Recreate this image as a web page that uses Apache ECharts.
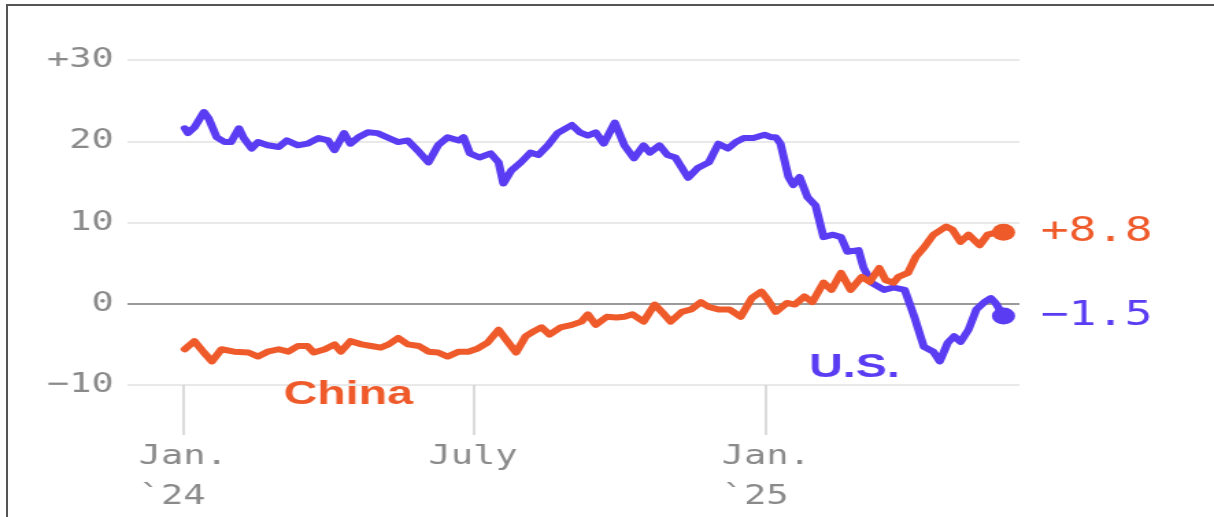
<!DOCTYPE html>
<html>
<head>
<meta charset="utf-8">
<script src="https://cdn.jsdelivr.net/npm/echarts@6/dist/echarts.min.js"></script>
<style>
  html, body { margin: 0; padding: 0; background: #fff; overflow: hidden; }
  #frame { position: absolute; left: 6px; top: 4px; width: 1210px; height: 520px;
           border-left: 2px solid #555; border-top: 2px solid #555; }
  /* the reference is stretched sideways, so the chart is drawn narrow and scaled */
  #chart { position: absolute; left: 0; top: 0; width: 886px; height: 517px;
           transform: scaleX(1.3702); transform-origin: 0 0; }
</style>
</head>
<body>
<div id="frame"></div>
<div id="chart"></div>
<script>
// U.S. line (change, points)
var usDates = ['2024-01-02','2024-01-04','2024-01-08','2024-01-14','2024-01-17','2024-01-22','2024-01-27','2024-01-31','2024-02-05','2024-02-08',
  '2024-02-13','2024-02-17','2024-02-23','2024-03-01','2024-03-06','2024-03-13','2024-03-19','2024-03-26','2024-04-01','2024-04-05',
  '2024-04-11','2024-04-15','2024-04-20','2024-04-26','2024-05-02','2024-05-09','2024-05-15','2024-05-21','2024-05-28','2024-06-03',
  '2024-06-09','2024-06-15','2024-06-22','2024-06-25','2024-06-29','2024-07-05','2024-07-12','2024-07-17','2024-07-20','2024-07-25',
  '2024-07-31','2024-08-06','2024-08-11','2024-08-17','2024-08-23','2024-09-01','2024-09-06','2024-09-11','2024-09-16','2024-09-21',
  '2024-09-28','2024-10-04','2024-10-10','2024-10-16','2024-10-20','2024-10-26','2024-10-31','2024-11-05','2024-11-13','2024-11-19',
  '2024-11-26','2024-12-02','2024-12-08','2024-12-13','2024-12-18','2024-12-24','2024-12-31','2025-01-04','2025-01-07','2025-01-10',
  '2025-01-15','2025-01-18','2025-01-22','2025-01-27','2025-02-01','2025-02-06','2025-02-12','2025-02-17','2025-02-21','2025-02-28',
  '2025-03-03','2025-03-08','2025-03-16','2025-03-22','2025-03-29','2025-04-04','2025-04-10','2025-04-16','2025-04-20','2025-04-25',
  '2025-04-29','2025-05-03','2025-05-08','2025-05-13','2025-05-18','2025-05-22','2025-05-25','2025-05-30']
var usValues = [21.6,21.0,21.7,23.6,22.8,20.5,19.9,19.9,21.6,20.4,
  19.1,19.9,19.5,19.3,20.1,19.5,19.7,20.4,20.1,18.9,
  21.0,19.7,20.5,21.1,21.0,20.4,19.9,20.1,18.7,17.4,
  19.5,20.5,20.1,20.5,18.5,18.0,18.5,17.4,14.8,16.4,
  17.4,18.6,18.3,19.5,21.0,22.0,21.1,20.7,21.1,19.7,
  22.3,19.5,17.9,19.5,18.6,19.5,18.3,18.0,15.5,16.7,
  17.4,19.7,19.1,19.9,20.4,20.4,20.8,20.5,20.5,19.7,
  15.6,14.6,15.6,13.1,12.1,8.2,8.5,8.2,6.4,6.6,
  4.5,2.6,1.7,2.0,1.7,-1.6,-5.3,-5.9,-7.1,-4.8,
  -4.0,-4.7,-3.2,-0.7,0.2,0.7,0.1,-1.5]

// China line
var cnDates = ['2024-01-02','2024-01-08','2024-01-14','2024-01-19','2024-01-25','2024-02-02','2024-02-11','2024-02-17','2024-02-23','2024-03-01',
  '2024-03-07','2024-03-13','2024-03-19','2024-03-23','2024-03-30','2024-04-05','2024-04-09','2024-04-15','2024-04-22','2024-04-28',
  '2024-05-04','2024-05-09','2024-05-15','2024-05-21','2024-05-28','2024-06-03','2024-06-09','2024-06-15','2024-06-22','2024-06-28',
  '2024-07-04','2024-07-10','2024-07-17','2024-07-22','2024-07-28','2024-08-03','2024-08-08','2024-08-13','2024-08-18','2024-08-25',
  '2024-09-01','2024-09-07','2024-09-11','2024-09-16','2024-09-23','2024-09-29','2024-10-04','2024-10-09','2024-10-16','2024-10-23',
  '2024-10-28','2024-11-02','2024-11-09','2024-11-15','2024-11-21','2024-11-26','2024-12-02','2024-12-09','2024-12-16','2024-12-23',
  '2024-12-29','2025-01-02','2025-01-07','2025-01-14','2025-01-19','2025-01-25','2025-01-30','2025-02-06','2025-02-11','2025-02-17',
  '2025-02-23','2025-03-02','2025-03-07','2025-03-13','2025-03-17','2025-03-22','2025-03-25','2025-03-31','2025-04-05','2025-04-10',
  '2025-04-16','2025-04-24','2025-04-28','2025-05-03','2025-05-08','2025-05-15','2025-05-20','2025-05-24','2025-05-30']
var cnValues = [-5.6,-4.6,-6.0,-7.1,-5.6,-5.9,-6.0,-6.5,-5.9,-5.6,
  -5.9,-5.2,-5.2,-6.0,-5.6,-5.0,-5.9,-4.6,-5.0,-5.2,
  -5.4,-5.0,-4.2,-5.0,-5.2,-5.9,-6.0,-6.5,-5.9,-5.9,
  -5.5,-4.8,-3.2,-4.5,-6.0,-4.0,-3.4,-2.9,-3.8,-2.9,
  -2.6,-2.2,-1.3,-2.6,-1.6,-1.7,-1.6,-1.3,-2.2,-0.1,
  -1.1,-2.2,-1.0,-0.7,0.2,-0.4,-0.7,-0.7,-1.6,0.7,
  1.5,0.5,-1.0,0.1,-0.1,0.9,0.2,2.6,1.7,3.8,
  1.7,3.3,2.7,4.4,2.9,2.6,3.3,3.8,5.8,6.9,
  8.5,9.5,9.1,7.6,8.5,7.2,8.5,8.7,8.8]

// axis ticks
var yTicks = [-10, 0, 10, 20, 30]
var yTickLabels = ['−10', '0', '10', '20', '+30']
var xTickDates = ['2024-01-01', '2024-07-01', '2025-01-01']
var xTickLabels = ['Jan.\n`24 ', 'July', 'Jan.\n`25 ']

var usColor = '#5a3cf2'
var cnColor = '#ef5a2b'
var mono = '"DejaVu Sans Mono", monospace'

function toTime(s) {
  var p = s.split('-')
  return new Date(+p[0], +p[1] - 1, +p[2]).getTime()
}
function zip(dates, values) {
  return dates.map(function(d, i) { return [toTime(d), values[i]] })
}
function signed(v) {
  return (v > 0 ? '+' : v < 0 ? '−' : '') + Math.abs(v).toFixed(1)
}

var usData = zip(usDates, usValues)
var cnData = zip(cnDates, cnValues)
var xTickTimes = xTickDates.map(toTime)

var chart = echarts.init(document.getElementById('chart'))
var option = {
  animation: false,
  grid: { left: 93, right: 142, top: 60, bottom: 131 },
  xAxis: {
    // dates as timestamps on a value axis, ticks only at the three labelled dates
    type: 'value',
    min: toTime('2023-11-27'),
    max: toTime('2025-06-09'),
    axisLine: { show: false, onZero: false },
    splitLine: { show: false },
    axisTick: {
      show: true,
      customValues: xTickTimes,
      length: 50,
      lineStyle: { color: '#cfcfcf', width: 1.5 }
    },
    axisLabel: {
      customValues: xTickTimes,
      margin: 52,
      fontFamily: mono,
      fontSize: 27,
      lineHeight: 40,
      color: '#8a8a8a',
      formatter: function(v) {
        var i = xTickTimes.indexOf(v)
        return i >= 0 ? xTickLabels[i] : ''
      }
    }
  },
  yAxis: {
    type: 'value',
    min: -10,
    max: 30,
    interval: 10,
    axisLine: { show: false },
    axisTick: { show: false },
    splitLine: {
      lineStyle: {
        // index follows the ticks from min: -10, 0, 10, 20, 30
        color: ['#e2e2e2', '#7a7a7a', '#e2e2e2', '#e2e2e2', '#e2e2e2'],
        width: 1.5
      }
    },
    axisLabel: {
      margin: 10,
      fontFamily: mono,
      fontSize: 27,
      color: '#8a8a8a',
      formatter: function(v) {
        var i = yTicks.indexOf(v)
        return i >= 0 ? yTickLabels[i] : ''
      }
    }
  },
  series: [
    {
      name: 'U.S.',
      type: 'line',
      data: usData,
      showSymbol: false,
      lineStyle: { color: usColor, width: 6, join: 'round', cap: 'round' },
      itemStyle: { color: usColor },
      endLabel: {
        show: true,
        distance: 27,
        fontFamily: mono,
        fontSize: 34,
        color: usColor,
        formatter: function(p) { return signed(p.value[1]) }
      },
      z: 2
    },
    {
      name: 'China',
      type: 'line',
      data: cnData,
      showSymbol: false,
      lineStyle: { color: cnColor, width: 6, join: 'round', cap: 'round' },
      itemStyle: { color: cnColor },
      endLabel: {
        show: true,
        distance: 27,
        fontFamily: mono,
        fontSize: 34,
        color: cnColor,
        formatter: function(p) { return signed(p.value[1]) }
      },
      z: 3
    },
    {
      type: 'scatter',
      symbolSize: 17,
      itemStyle: { opacity: 1 },
      data: [
        { value: usData[usData.length - 1], itemStyle: { color: usColor, opacity: 1 } },
        { value: cnData[cnData.length - 1], itemStyle: { color: cnColor, opacity: 1 } }
      ],
      z: 4
    }
  ]
}
chart.setOption(option)

// series name labels, placed in data space
var nameLabels = [
  { text: 'China', at: ['2024-03-04', -11.2], color: cnColor },
  { text: 'U.S.', at: ['2025-01-28', -7.85], color: usColor }
]
chart.setOption({
  graphic: nameLabels.map(function(l) {
    var pt = chart.convertToPixel({ gridIndex: 0 }, [toTime(l.at[0]), l.at[1]])
    return {
      type: 'text',
      x: pt[0],
      y: pt[1],
      z: 10,
      style: {
        text: l.text,
        fill: l.color,
        font: 'bold 34px "Liberation Sans", Arial, sans-serif',
        align: 'left',
        verticalAlign: 'middle'
      }
    }
  })
})

window.addEventListener('resize', function() {
  chart.resize()
})
</script>
</body>
</html>
